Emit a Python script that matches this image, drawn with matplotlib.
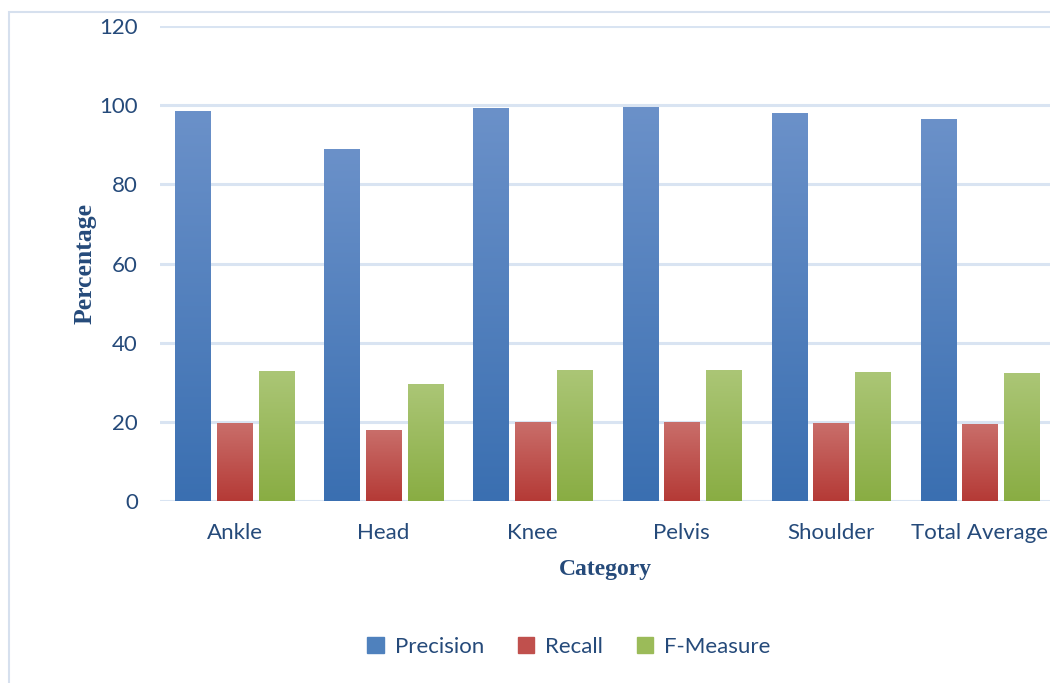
import matplotlib
matplotlib.use("Agg")
import matplotlib.pyplot as plt
import numpy as np
from matplotlib.colors import LinearSegmentedColormap
from matplotlib.patches import Rectangle

categories = ["Ankle", "Head", "Knee", "Pelvis", "Shoulder", "Total Average"]
precision = [98.3, 88.7, 99.1, 99.3, 97.8, 96.5]
recall = [19.6, 17.8, 19.8, 19.8, 19.6, 19.4]
fmeasure = [32.7, 29.5, 33.0, 33.0, 32.5, 32.3]
series_names = ["Precision", "Recall", "F-Measure"]

grads = [("#6b91c9", "#3a6fb1"), ("#c96e6a", "#b53a36"), ("#abc676", "#89ad43")]
mid = ["#4f81bd", "#c0504d", "#9bbb59"]
txt = "#254a7a"
font = "Lato"

fig = plt.figure(figsize=(10.5, 6.83), dpi=100)
ax = fig.add_axes([160/1050, 1 - 501/683, (1050-160)/1050, (501-26)/683])

# outer chart border
fig.patches.append(Rectangle((9/1050, -0.01), 1.1, 1 - 12/683 + 0.01, transform=fig.transFigure,
                             fill=False, edgecolor="#d6e0ee", linewidth=1.5))

x = np.arange(len(categories))
w = 0.235
off = 0.28
data = [precision, recall, fmeasure]
for i, (vals, name) in enumerate(zip(data, series_names)):
    bars = ax.bar(x + (i - 1) * off, vals, w, color=mid[i], label=name, zorder=3)
    cmap = LinearSegmentedColormap.from_list("g%d" % i, [grads[i][1], grads[i][0]])
    for b in bars:
        b.set_alpha(0)
        x0, y0 = b.get_x(), b.get_y()
        ax.imshow(np.linspace(0, 1, 256).reshape(-1, 1), cmap=cmap, origin="lower",
                  extent=[x0, x0 + b.get_width(), y0, y0 + b.get_height()],
                  aspect="auto", zorder=3)

ax.set_xlim(-0.5, 5.47)
ax.set_ylim(0, 120)
ax.set_yticks(range(0, 121, 20))
ax.set_xticks(x)
ax.set_xticklabels(categories)
ax.grid(axis="y", color="#d9e4f2", linewidth=2.2, zorder=0)
ax.set_axisbelow(True)
for s in ax.spines.values():
    s.set_visible(False)
ax.tick_params(length=0, labelsize=16, labelcolor=txt)
ax.tick_params(axis="x", pad=16)
ax.tick_params(axis="y", pad=16)
for lab in ax.get_xticklabels() + ax.get_yticklabels():
    lab.set_family(font)

ax.set_ylabel("Percentage", fontsize=18.5, fontweight="bold", family="Liberation Serif", color=txt, labelpad=2)
ax.set_xlabel("Category", fontsize=17, fontweight="bold", family="Liberation Serif", color=txt, labelpad=11)

handles = [Rectangle((0, 0), 1, 1, color=mid[i]) for i in range(3)]
leg = fig.legend(handles, series_names, loc="center", bbox_to_anchor=(569/1050, 1 - 647/683),
                 ncol=3, frameon=False, handlelength=0.75, handleheight=0.75,
                 columnspacing=1.5, handletextpad=0.5, prop={"family": font, "size": 16})
for t in leg.get_texts():
    t.set_color(txt)

fig.savefig("out.png", dpi=100)
